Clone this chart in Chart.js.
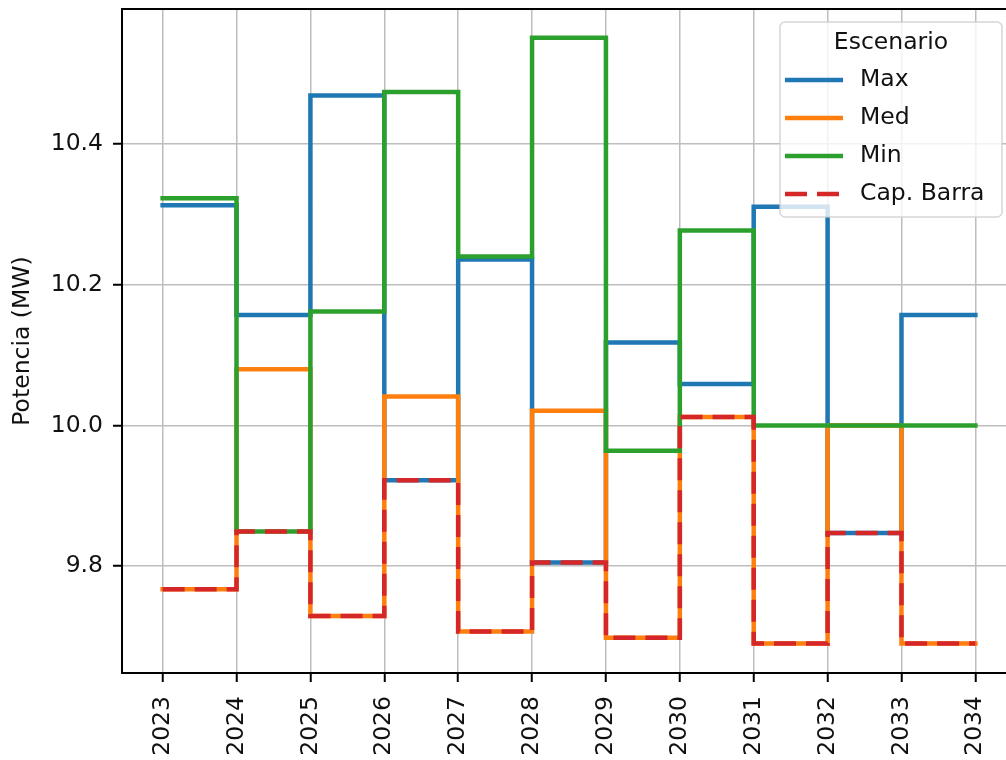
<!DOCTYPE html>
<html lang="es">
<head>
    <meta charset="UTF-8">
    <title>Potencia por escenario</title>
    <script src="https://cdn.jsdelivr.net/npm/chart.js"></script>
    <style>
        html, body {
            margin: 0;
            padding: 0;
            background: #fff;
            overflow: hidden;
        }
        #chart-container {
            width: 1016px;
            height: 760px;
        }
    </style>
</head>
<body>

    <div id="chart-container">
        <canvas id="potenciaChart" width="1016" height="760"></canvas>
    </div>

    <script>
        // values, one per year (step-post)
        const years = [2023, 2024, 2025, 2026, 2027, 2028, 2029, 2030, 2031, 2032, 2033, 2034];
        const maxValues = [10.313, 10.157, 10.469, 9.922, 10.236, 9.805, 10.118, 10.059, 10.311, 9.847, 10.157, 10.157];
        const medValues = [9.767, 10.080, 9.729, 10.041, 9.707, 10.021, 9.698, 10.012, 9.690, 10.000, 9.690, 9.690];
        const minValues = [10.323, 9.849, 10.162, 10.474, 10.240, 10.551, 9.964, 10.277, 10.000, 10.000, 10.000, 10.000];
        const capValues = [9.767, 9.849, 9.729, 9.922, 9.707, 9.805, 9.698, 10.012, 9.690, 9.847, 9.690, 9.690];
        const yTicks = [9.8, 10.0, 10.2, 10.4];
        const legendTitle = 'Escenario';

        const FONT = 'DejaVu Sans';
        const FONT_SIZE = 23.5;
        const TEXT = '#111';

        Chart.defaults.font.family = FONT;
        Chart.defaults.font.size = FONT_SIZE;
        Chart.defaults.color = TEXT;

        function toPoints(values) {
            return years.map((year, i) => ({ x: year, y: values[i] }));
        }

        // order: lower number is drawn on top, so Cap. Barra ends up last like in matplotlib
        function series(label, values, color, order, dash) {
            return {
                label: label,
                data: toPoints(values),
                order: order,
                borderColor: color,
                backgroundColor: color,
                borderWidth: 4.5,
                borderDash: dash || [],
                borderCapStyle: dash ? 'butt' : 'square',
                borderJoinStyle: 'miter',
                stepped: 'before',
                pointRadius: 0,
                fill: false
            };
        }

        function noPadding(scale) {
            scale.paddingTop = 0;
            scale.paddingBottom = 0;
            scale.paddingLeft = 0;
            scale.paddingRight = 0;
        }

        // top/right spines + matplotlib-style legend drawn over the plot
        const frameAndLegend = {
            id: 'frameAndLegend',
            afterDraw(chart) {
                const { ctx, chartArea } = chart;
                ctx.save();

                ctx.strokeStyle = '#000';
                ctx.lineWidth = 2;
                ctx.beginPath();
                ctx.moveTo(chartArea.left - 1, chartArea.top);
                ctx.lineTo(chartArea.right, chartArea.top);
                ctx.lineTo(chartArea.right, chartArea.bottom);
                ctx.stroke();

                const box = { x: 780, y: 22, w: 222, h: 195 };
                ctx.fillStyle = 'rgba(255, 255, 255, 0.8)';
                ctx.strokeStyle = 'rgba(204, 204, 204, 0.8)';
                ctx.lineWidth = 1.5;
                ctx.beginPath();
                ctx.roundRect(box.x, box.y, box.w, box.h, 5);
                ctx.fill();
                ctx.stroke();

                ctx.fillStyle = TEXT;
                ctx.font = FONT_SIZE + 'px "' + FONT + '"';
                ctx.textBaseline = 'middle';
                ctx.textAlign = 'center';
                ctx.fillText(legendTitle, box.x + box.w / 2, 43);

                ctx.textAlign = 'left';
                chart.data.datasets.forEach((ds, i) => {
                    const rowY = 80 + i * 38;
                    ctx.strokeStyle = ds.borderColor;
                    ctx.lineWidth = ds.borderWidth;
                    ctx.lineCap = 'butt';
                    ctx.setLineDash(ds.borderDash);
                    ctx.beginPath();
                    ctx.moveTo(785, rowY);
                    ctx.lineTo(843, rowY);
                    ctx.stroke();
                    ctx.setLineDash([]);
                    ctx.fillText(ds.label, 860, rowY);
                });

                ctx.restore();
            }
        };

        const gridStyle = {
            color: '#bdbdbd',
            lineWidth: 1.5,
            tickColor: '#000',
            tickLength: 9,
            tickWidth: 2
        };

        const ctx = document.getElementById('potenciaChart').getContext('2d');
        const potenciaChart = new Chart(ctx, {
            type: 'line',
            data: {
                datasets: [
                    series('Max', maxValues, '#1f77b4', 4),
                    series('Med', medValues, '#ff7f0e', 3),
                    series('Min', minValues, '#2ca02c', 2),
                    series('Cap. Barra', capValues, '#d62728', 1, [22, 10])
                ]
            },
            options: {
                responsive: false,
                animation: false,
                devicePixelRatio: 1,
                layout: {
                    padding: { top: 9, right: 0, bottom: 0, left: 0 }
                },
                plugins: {
                    legend: { display: false },
                    tooltip: { enabled: false }
                },
                scales: {
                    x: {
                        type: 'linear',
                        min: 2022.45,
                        max: 2034.55,
                        afterBuildTicks: (scale) => {
                            scale.ticks = years.map(v => ({ value: v }));
                        },
                        afterFit: (scale) => {
                            scale.height = 87;
                            noPadding(scale);
                        },
                        ticks: {
                            autoSkip: false,
                            minRotation: 90,
                            maxRotation: 90,
                            padding: 14,
                            callback: (v) => String(v)
                        },
                        grid: gridStyle,
                        border: { color: '#000', width: 2 }
                    },
                    y: {
                        min: 9.648,
                        max: 10.592,
                        afterBuildTicks: (scale) => {
                            scale.ticks = yTicks.map(v => ({ value: v }));
                        },
                        afterFit: (scale) => {
                            scale.width = 122;
                            noPadding(scale);
                        },
                        ticks: {
                            padding: 10,
                            callback: (v) => v.toFixed(1)
                        },
                        grid: gridStyle,
                        border: { color: '#000', width: 2 },
                        title: {
                            display: true,
                            text: 'Potencia (MW)',
                            padding: { top: 9, bottom: 0 }
                        }
                    }
                }
            },
            plugins: [frameAndLegend]
        });
    </script>
</body>
</html>
